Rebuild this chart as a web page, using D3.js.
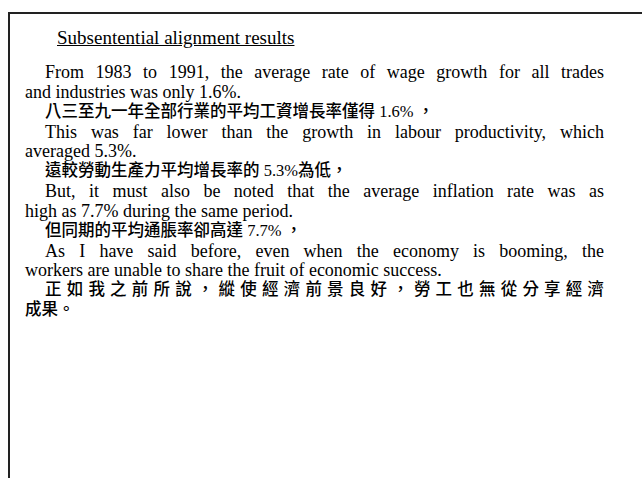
<!DOCTYPE html>
<html>
<head>
<meta charset="utf-8">
<script src="https://cdn.jsdelivr.net/npm/d3@7"></script>
<style>
html, body { margin: 0; padding: 0; background: #fff; }
#slide { position: relative; width: 642px; height: 478px; overflow: hidden; }
.line { position: absolute; white-space: nowrap; color: #000;
  font-family: "Liberation Serif", "Times New Roman", "Noto Sans CJK TC", serif; }
.cjk { font-family: "Liberation Serif", "Noto Sans CJK TC", sans-serif; font-weight: 500; }
.just { text-align: justify; text-align-last: justify; }
</style>
</head>
<body>
<div id="slide"></div>
<script>
// ---- content ----
const title = "Subsentential alignment results";
const lineTexts = [
  "From 1983 to 1991, the average rate of wage growth for all trades",
  "and industries was only 1.6%.",
  "八三至九一年全部行業的平均工資增長率僅得 1.6% ，",
  "This was far lower than the growth in labour productivity, which",
  "averaged 5.3%.",
  "遠較勞動生產力平均增長率的 5.3%為低，",
  "But, it must also be noted that the average inflation rate was as",
  "high as 7.7% during the same period.",
  "但同期的平均通脹率卻高達 7.7% ，",
  "As I have said before, even when the economy is booming, the",
  "workers are unable to share the fruit of economic success.",
  "正如我之前所說，縱使經濟前景良好，勞工也無從分享經濟",
  "成果。"
];
const lineIndent  = [1,0,1,1,0,1,1,0,1,1,0,1,0];
const lineJustify = [1,0,0,1,0,0,1,0,0,1,0,1,0];
const lineCJK     = [0,0,1,0,0,1,0,0,1,0,0,1,1];

// ---- layout ----
const W = 642, H = 478;
const textLeft = 25, indentLeft = 45, textRight = 604;
const y = d3.scaleLinear().domain([0, lineTexts.length - 1]).range([77, 315]);

const slide = d3.select("#slide");

// frame (top and left edges)
const svg = slide.append("svg").attr("width", W).attr("height", H)
  .style("position", "absolute").style("left", 0).style("top", 0);
svg.append("path")
  .attr("d", `M9,${H} L9,13 L${W},13`)
  .attr("fill", "none").attr("stroke", "#222").attr("stroke-width", 2);

// title
slide.append("div").attr("class", "line")
  .style("left", "57px").style("top", (44 - 16) + "px")
  .style("font-size", "19px").style("line-height", "20px")
  .style("text-decoration", "underline")
  .text(title);

// body lines
const data = lineTexts.map((t, i) => ({t, i, indent: lineIndent[i], just: lineJustify[i], cjk: lineCJK[i]}));
slide.selectAll("div.body").data(data).join("div")
  .attr("class", d => "line body" + (d.cjk ? " cjk" : "") + (d.just ? " just" : ""))
  .style("left", d => (d.indent ? indentLeft : textLeft) + "px")
  .style("width", d => d.just ? (textRight - (d.indent ? indentLeft : textLeft)) + "px" : null)
  .style("top", d => (y(d.i) - 15) + "px")
  .style("font-size", d => d.cjk ? "16.5px" : "18px")
  .style("line-height", "20px")
  .text(d => d.t);
</script>
</body>
</html>
